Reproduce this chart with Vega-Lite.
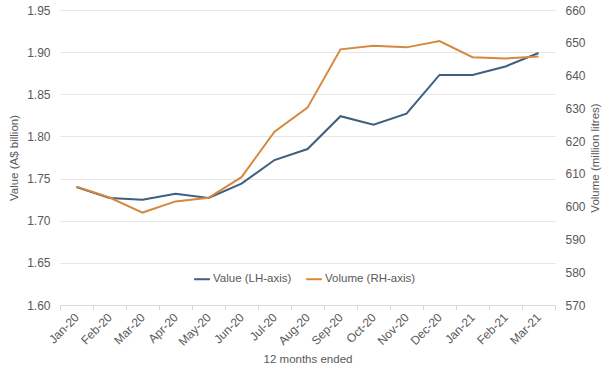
{
  "$schema": "https://vega.github.io/schema/vega-lite/v6.json",
  "width": 495,
  "height": 295,
  "autosize": {"type": "none"},
  "padding": {"left": 60, "top": 10, "right": 53, "bottom": 75},
  "background": "white",
  "config": {
    "view": {"stroke": null},
    "font": "Liberation Sans",
    "axis": {"labelFont": "Liberation Sans", "titleFont": "Liberation Sans", "labelColor": "#595959", "titleColor": "#595959", "labelFontSize": 12, "titleFontSize": 11.5, "titleFontWeight": "normal"},
    "legend": {"labelFont": "Liberation Sans", "labelColor": "#595959", "labelFontSize": 11.5}
  },
  "data": {
    "values": [
      {"month": "Jan-20", "value": 1.740, "volume": 606.1},
      {"month": "Feb-20", "value": 1.727, "volume": 602.8},
      {"month": "Mar-20", "value": 1.725, "volume": 598.2},
      {"month": "Apr-20", "value": 1.732, "volume": 601.6},
      {"month": "May-20", "value": 1.727, "volume": 602.7},
      {"month": "Jun-20", "value": 1.744, "volume": 609.0},
      {"month": "Jul-20", "value": 1.772, "volume": 622.9},
      {"month": "Aug-20", "value": 1.785, "volume": 630.2},
      {"month": "Sep-20", "value": 1.824, "volume": 648.0},
      {"month": "Oct-20", "value": 1.814, "volume": 649.1},
      {"month": "Nov-20", "value": 1.827, "volume": 648.6},
      {"month": "Dec-20", "value": 1.873, "volume": 650.5},
      {"month": "Jan-21", "value": 1.873, "volume": 645.6},
      {"month": "Feb-21", "value": 1.883, "volume": 645.2},
      {"month": "Mar-21", "value": 1.899, "volume": 645.8}
    ]
  },
  "encoding": {
    "x": {
      "field": "month",
      "type": "ordinal",
      "sort": null,
      "scale": {"type": "band", "paddingInner": 0, "paddingOuter": 0},
      "axis": {
        "title": "12 months ended",
        "labelAngle": -45,
        "labelAlign": "right",
        "labelBaseline": "middle",
        "labelPadding": 5,
        "labelColor": "#595959",
        "titleColor": "#595959",
        "domainColor": "#d9d9d9",
        "tickColor": "#d9d9d9",
        "tickBand": "extent",
        "tickSize": 5,
        "titlePadding": 6,
        "grid": false
      }
    }
  },
  "layer": [
    {
      "mark": {"type": "line", "strokeWidth": 2},
      "encoding": {
        "y": {
          "field": "value",
          "type": "quantitative",
          "scale": {"domain": [1.6, 1.95], "zero": false, "nice": false},
          "axis": {
            "title": "Value (A$ billion)",
            "values": [1.6, 1.65, 1.7, 1.75, 1.8, 1.85, 1.9, 1.95],
            "format": ".2f",
            "domain": false,
            "ticks": false,
            "labelPadding": 10,
            "titlePadding": 7,
            "grid": true,
            "gridColor": "#e6e6e6"
          }
        },
        "color": {
          "datum": "Value (LH-axis)",
          "scale": {"domain": ["Value (LH-axis)", "Volume (RH-axis)"], "range": ["#3d5f80", "#d4893f"]},
          "legend": {
            "title": null,
            "orient": "none",
            "legendX": 133,
            "legendY": 260,
            "direction": "horizontal",
            "symbolType": "stroke",
            "symbolStrokeWidth": 2,
            "symbolSize": 250,
            "labelOffset": 2,
            "columnPadding": 10
          }
        }
      }
    },
    {
      "mark": {"type": "line", "strokeWidth": 2},
      "encoding": {
        "y": {
          "field": "volume",
          "type": "quantitative",
          "scale": {"domain": [570, 660], "zero": false, "nice": false},
          "axis": {
            "orient": "right",
            "title": "Volume (million litres)",
            "titleAngle": 270,
            "titleBaseline": "top",
            "values": [570, 580, 590, 600, 610, 620, 630, 640, 650, 660],
            "domain": false,
            "ticks": false,
            "labelPadding": 10,
            "titlePadding": 4,
            "grid": false
          }
        },
        "color": {"datum": "Volume (RH-axis)"}
      }
    }
  ],
  "resolve": {"scale": {"y": "independent"}}
}
